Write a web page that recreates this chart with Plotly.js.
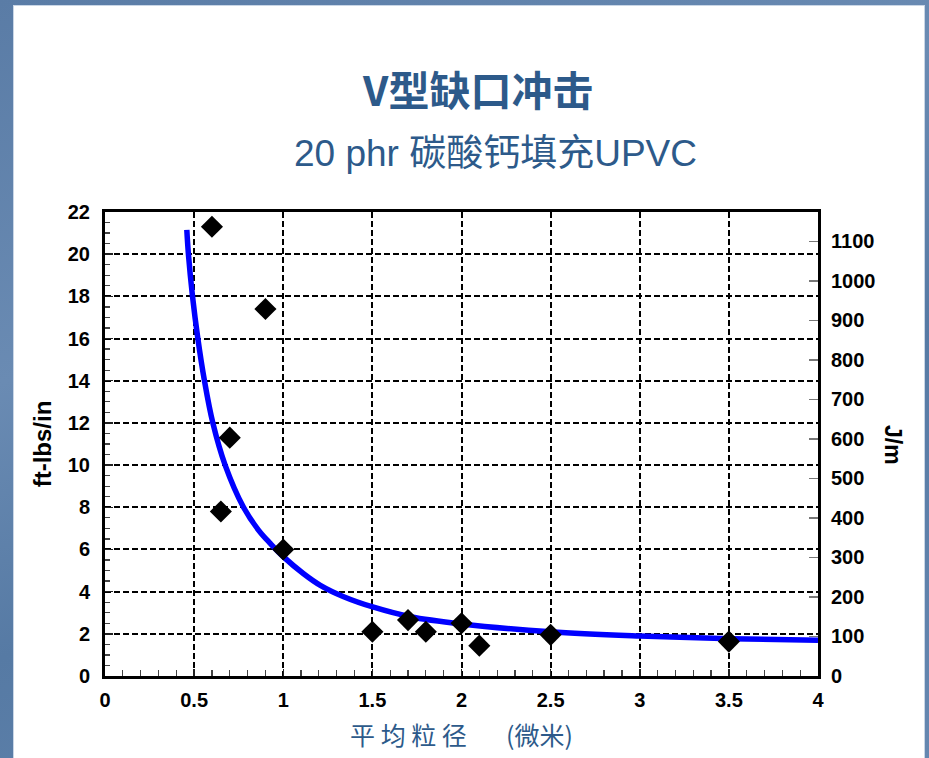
<!DOCTYPE html>
<html>
<head>
<meta charset="utf-8">
<script src="https://cdn.plot.ly/plotly-3.0.1.min.js"></script>
<style>
  html, body { margin: 0; padding: 0; }
  body {
    width: 929px; height: 758px; overflow: hidden; position: relative;
    background: linear-gradient(160deg, #5a7ca6 0%, #6a8bb3 35%, #567aa4 60%, #6587b0 100%);
  }
  #panel {
    position: absolute; left: 14px; top: 6px; width: 910px; height: 752px;
    background: #ffffff; box-shadow: 0 0 0 1px #c9d6e6;
  }
  #chart { position: absolute; left: 0; top: 0; width: 910px; height: 752px; }
</style>
</head>
<body>
<div id="panel"><div id="chart"></div></div>
<script>
// Measured data points (average particle size in microns vs notched Izod impact, ft-lbs/in)
const particleSize = [0.6, 0.65, 0.7, 0.9, 1.0, 1.5, 1.7, 1.8, 2.0, 2.1, 2.5, 3.5];
const impactFtLbs  = [21.3, 7.8, 11.3, 17.4, 6.0, 2.1, 2.65, 2.1, 2.5, 1.44, 1.95, 1.63];

// Fitted trend curve
const curveX = [0.459, 0.468, 0.491, 0.521, 0.558, 0.605, 0.674, 0.777, 0.861, 0.927, 1.0, 1.114, 1.208, 1.339, 1.507, 1.713, 2.0, 2.5, 3.0, 3.51, 4.0];
const curveY = [21.15, 20.0, 18.0, 16.0, 14.0, 12.0, 10.0, 8.0, 6.92, 6.29, 5.66, 4.85, 4.30, 3.76, 3.26, 2.81, 2.47, 2.10, 1.90, 1.77, 1.69];

const xTickVals = [0, 0.5, 1, 1.5, 2, 2.5, 3, 3.5, 4];
const xTickText = ['0', '0.5', '1', '1.5', '2', '2.5', '3', '3.5', '4'];
const yTickVals = [0, 2, 4, 6, 8, 10, 12, 14, 16, 18, 20, 22];
const yTickText = ['0', '2', '4', '6', '8', '10', '12', '14', '16', '18', '20', '22'];
const y2TickVals = [0, 100, 200, 300, 400, 500, 600, 700, 800, 900, 1000, 1100];
const y2TickText = ['0', '100', '200', '300', '400', '500', '600', '700', '800', '900', '1000', '1100'];

const titleText = 'V型缺口冲击';
const subtitleText = '20 phr 碳酸钙填充UPVC';
const xTitle = '平 均 粒 径 &nbsp;&nbsp;&nbsp;&nbsp;&nbsp; (微米)';
const yTitle = 'ft-lbs/in';
const y2Title = 'J/m';

const FTLB_TO_JM = 53.38;
const yMax = 22;

const FONT = 'Liberation Sans, Arial, "Noto Sans CJK SC", sans-serif';
const CJK = '"Noto Sans CJK SC", "Liberation Sans", sans-serif';
const TITLE_COLOR = '#2d5a8a';
const bold = a => a.map(s => '<b>' + s + '</b>');

const traces = [
  {
    x: curveX, y: curveY, type: 'scatter', mode: 'lines',
    line: { color: '#0000ff', width: 5.5, shape: 'spline', smoothing: 1 },
    hoverinfo: 'skip', showlegend: false
  },
  {
    x: particleSize, y: impactFtLbs, type: 'scatter', mode: 'markers',
    marker: { symbol: 'diamond', size: 17, color: '#000000' },
    showlegend: false
  },
  {
    x: [0], y: [0], yaxis: 'y2', type: 'scatter', mode: 'markers',
    marker: { opacity: 0 }, hoverinfo: 'skip', showlegend: false
  }
];

const layout = {
  width: 910, height: 752,
  margin: { l: 91, r: 106, t: 206, b: 82 },
  paper_bgcolor: '#ffffff', plot_bgcolor: '#ffffff',
  font: { family: FONT, color: '#000000' },
  showlegend: false,
  xaxis: {
    range: [0, 4], tickvals: xTickVals, ticktext: bold(xTickText),
    showgrid: true, gridcolor: '#000000', gridwidth: 2, griddash: '6px,3px',
    zeroline: false,
    showline: true, linecolor: '#000000', linewidth: 3, mirror: true,
    ticks: 'inside', ticklen: 7, tickwidth: 1.5, tickcolor: '#222',
    minor: { dtick: 0.1, ticks: 'inside', ticklen: 6, tickwidth: 1.2, tickcolor: '#444', showgrid: false },
    tickfont: { family: FONT, size: 20, color: '#000' },
    ticklabelstandoff: 4,
    title: { text: xTitle, font: { family: CJK, size: 25, color: TITLE_COLOR }, standoff: 18 }
  },
  yaxis: {
    range: [0, yMax], tickvals: yTickVals, ticktext: bold(yTickText),
    showgrid: true, gridcolor: '#000000', gridwidth: 2, griddash: '6px,3px',
    zeroline: false,
    showline: true, linecolor: '#000000', linewidth: 3, mirror: true,
    ticks: 'inside', ticklen: 8, tickwidth: 1.5, tickcolor: '#222',
    minor: { dtick: 0.5, ticks: 'inside', ticklen: 5, tickwidth: 1.2, tickcolor: '#444', showgrid: false },
    tickfont: { family: FONT, size: 20, color: '#000' },
    ticklabelstandoff: 8,
    title: { text: '<b>' + yTitle + '</b>', font: { family: FONT, size: 24, color: '#000' }, standoff: 10 }
  },
  yaxis2: {
    overlaying: 'y', side: 'right', range: [0, yMax * FTLB_TO_JM],
    tickvals: y2TickVals, ticktext: bold(y2TickText), showgrid: false, zeroline: false, showline: false,
    ticks: 'inside', ticklen: 9, tickwidth: 1.5, tickcolor: '#777',
    tickfont: { family: FONT, size: 20, color: '#000' },
    ticklabelstandoff: 12
  },
  annotations: [
    { text: '<b>' + titleText + '</b>', xref: 'paper', yref: 'paper', x: 0.523, y: 1.267,
      xanchor: 'center', yanchor: 'middle', showarrow: false,
      font: { family: CJK, size: 41, color: TITLE_COLOR } },
    { text: subtitleText, xref: 'paper', yref: 'paper', x: 0.547, y: 1.127,
      xanchor: 'center', yanchor: 'middle', showarrow: false,
      font: { family: 'Liberation Sans, "Noto Sans CJK SC", sans-serif', size: 37, color: TITLE_COLOR } },
    { text: '<b>' + y2Title + '</b>', xref: 'paper', yref: 'paper', x: 1.105, y: 0.498,
      xanchor: 'center', yanchor: 'middle', showarrow: false, textangle: 90,
      font: { family: FONT, size: 23, color: '#000' } }
  ]
};

Plotly.newPlot('chart', traces, layout, { displayModeBar: false, staticPlot: true });
</script>
</body>
</html>
